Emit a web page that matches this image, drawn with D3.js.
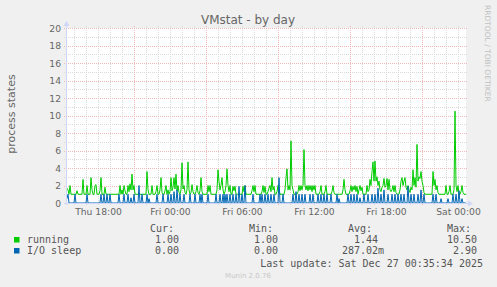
<!DOCTYPE html>
<html>
<head>
<meta charset="utf-8">
<script src="https://cdn.jsdelivr.net/npm/d3@7/dist/d3.min.js"></script>
<style>
  body { margin: 0; background: #F0F0F0; }
  svg { display: block; }
  text { font-family: "DejaVu Sans", sans-serif; }
  .mono { font-family: "DejaVu Sans Mono", monospace; white-space: pre; }
</style>
</head>
<body>
<script>
// munin vmstat, day view: 400 samples of 5 minutes
var startTime = new Date(2025, 11, 25, 15, 20);   // Thu 15:20
var endTime = new Date(2025, 11, 27, 0, 40);      // Sat 00:40
var stepMinutes = 5;

var running = [
  1.7,1.5,1,2,1,1,1,1,1,1,1.4,1,1,1,1,1,2.7,1,1,1,
  2,1,1,1,2.9,1.5,1,1,2,2.1,1,1,1,1.4,2.9,1,1,1,1.8,1,
  1,1,1,1,1,1,1,1,1,1,1,1,1,2,1,1.5,1,2,1.4,1,
  1,2,1.3,2.2,1.5,3.3,1.5,2,1,1,1,1,1,1,1,1,1,1,1,1,
  3.6,1.5,1,1,1,2,1,1,1,1.3,2,1,1,1.5,2.9,1.2,1,1,1.4,2,
  1,1.5,1,1.3,2.9,1.4,1.8,2.9,1.6,3.3,1.4,2,1.2,1,1.5,4.6,1.6,2,1.2,1,
  1.5,4.7,1.5,1,1.2,2.1,1.3,1,1,1.3,2,1.2,1,1.4,2.9,1.3,1,1,1,1,
  1,2,1.3,2,1,1,1,1,1,1,1.5,3.8,2.5,1.5,2,2.9,1.5,1,1.3,2,
  3.9,2,1.3,2,1,1,1.9,1.4,1.9,1,1,1,1,1,1,1,1.9,1.3,2,1,
  1,1,1,1,1,1.4,2,1.3,2,1,1,1,1,1,1,1.3,2,1.2,1.9,1,
  1,1.3,1.7,2,1.3,2.9,1.5,1.9,1,1,1.3,2,1.5,1,1,1,1,1,1.5,2.9,
  3.9,1.5,2,1.5,7.1,2,1.5,1,1,1,1,1.3,2,1.4,2,1.5,2,6.1,2,1.5,
  2,1.4,2,1.5,2,1.3,2,1.5,2,1,1,1,1,1.3,2,1,1,1,1.3,2,
  1,1,1,1,1,1.3,2,1.2,1,1,1,1,1,1,1,1,1.5,2.7,1.5,1,
  1,1,1,1.4,2,1.3,1.9,1.5,2,1.3,1.9,1,1.5,2,1.4,1.8,1,1,1,1,
  2,1.3,1.5,2.7,2,3.6,4.7,2.5,4.8,2.5,3,2,2.5,1.5,1.3,1.8,2,2.8,1.8,2,
  2.8,1.5,2.7,1.5,1.3,1.5,2,1.3,2,1.2,1,1,1,1.5,2.5,2.9,2,2.5,2.9,1.8,
  1.5,2,1.5,1.2,1.8,1.5,3.8,2,2.9,1.8,6.7,2.5,3,2.8,3.6,2.5,2,1.2,1,1,
  1,1,1,1,1,1,3.6,2,2.7,1.5,2,1.2,1,1,1,1,1,1,1,2,
  1,1,1.3,2,1,1,1,1.5,10.5,2,1.3,2,1,1,1.3,2,1.2,1,1,1
];

var ioSleep = [
  0.5,1,0,0,0,0,0,0,1,0,0,0,0,0,0,0,0,0,0,0,
  1,0,0,0,0,0,0,0,0,0,0,0,0,0,1,0,0,1,0,0,
  1,0,0,1,0,0,0,0,0,0,0,0,1,0,0,0,0,1,0,0,
  0,1,0,0,0.6,0,0,1,0,0,0,0,2,0,0,1,0,0,0,0,
  1,0,0.5,0,0,0,0,0,0,0,1,0,0,0,0,0,1,0,0,0,
  0,1,0,0,1,0,0,1.3,0,0,1.5,0,0,1,0,0,0,1,0,0,
  0,0,0,1,0,0,0,0,1,0,0,0,0,1,0,1,0,0,0,0,
  0,1,0,0,0,0,0,0,0,1,0,0,0,1,0,0,1,0,1,0,
  1,0,0,1,0,0,1,0,0,1,0,0,1.9,0,0,1,0,0,2,0,
  0,0,0,0,0,0,1,0,0,0,0,0,0,1,0,1,0,0,1,0,
  0,1,0,0,1,0,0,1,0,0,0,0,2.9,0,0,0,1,0,0,0,
  0,0,0,0,0,0,1,0,0,1.3,0,0,1,0,0,1,0,0,1,0,
  0,0,0,1,0,0,1,0,0,0,0,1,0,0,1,0,0,1,0,0,
  1,0,0,0,1,0,0,0,0,0,1,0,0.5,0,0,0,0,0,0,0,
  0,1,0,0,1,0,0,1,0,0,1,0,0,0.6,0,0,0,1,0,0,
  0,1,0,0,0,1,0,0,1,0,0,1.7,0,0,1,0,0,1.5,0,0,
  0,1,0,0,0,1,0,0,1,0,0,1,0,0,1,0,0,1,0,0,
  0,1.9,0,0,1,0,0,1,0,0,0,1,0,0,1.5,0,0,1,0,0,
  0,0,0,0,0,0,1,0,0,1,0,0,0,0,0.5,0,0,0,0,0,
  0,0.5,0,0,0,0,1,0,0,1,0,0,1.4,0,0,0.5,0,0,0,0
];

var seriesNames = ["running", "I/O sleep"];
var seriesColors = ["#00CC00", "#0066B3"];
var legendHeaders = ["Cur:", "Min:", "Avg:", "Max:"];
var runningStats = ["  1.00 ", "  1.00 ", "  1.44 ", " 10.50 "];
var ioSleepStats = ["  0.00 ", "  0.00 ", "287.02m", "  2.90 "];
var yTicks = [0, 2, 4, 6, 8, 10, 12, 14, 16, 18, 20];

var W = 497, H = 287;
var plotL = 66, plotR = 466, plotT = 28, plotB = 203;

var svg = d3.select("body").append("svg")
    .attr("width", W)
    .attr("height", H);

svg.append("rect").attr("width", W).attr("height", H).attr("fill", "#F0F0F0");
svg.append("rect")
    .attr("x", plotL).attr("y", plotT)
    .attr("width", plotR - plotL).attr("height", plotB - plotT)
    .attr("fill", "#FFFFFF");

var x = d3.scaleTime().domain([startTime, endTime]).range([plotL, plotR]);
var y = d3.scaleLinear().domain([0, 20]).range([plotB, plotT]);

// time of each sample
function sampleTime(i) {
  return new Date(startTime.getTime() + (i + 1) * stepMinutes * 60000);
}

var grid = svg.append("g").attr("shape-rendering", "crispEdges");
var minorColor = "#d9d9d9", majorColor = "#f0b8b8";

// minor grid: every unit and every hour
var minorY = d3.range(1, 20, 2);
grid.selectAll(".hminor").data(minorY).enter().append("line")
    .attr("x1", plotL - 2).attr("x2", plotR + 2)
    .attr("y1", function(d) { return Math.round(y(d)) + 0.5; })
    .attr("y2", function(d) { return Math.round(y(d)) + 0.5; })
    .attr("stroke", minorColor).attr("stroke-dasharray", "1,1");

var hours = x.ticks(d3.timeHour.every(1));
grid.selectAll(".vminor").data(hours.filter(function(d) { return d.getHours() % 6 != 3; })).enter().append("line")
    .attr("x1", function(d) { return Math.round(x(d)) + 0.5; })
    .attr("x2", function(d) { return Math.round(x(d)) + 0.5; })
    .attr("y1", plotT - 2).attr("y2", plotB + 2)
    .attr("stroke", minorColor).attr("stroke-dasharray", "1,1");

// major grid: every 2 units and every 6 hours
grid.selectAll(".hmajor").data(yTicks.slice(1)).enter().append("line")
    .attr("x1", plotL - 2).attr("x2", plotR + 2)
    .attr("y1", function(d) { return Math.round(y(d)) + 0.5; })
    .attr("y2", function(d) { return Math.round(y(d)) + 0.5; })
    .attr("stroke", majorColor).attr("stroke-dasharray", "1,1");

grid.selectAll(".vmajor").data(hours.filter(function(d) { return d.getHours() % 6 == 3; })).enter().append("line")
    .attr("x1", function(d) { return Math.round(x(d)) + 0.5; })
    .attr("x2", function(d) { return Math.round(x(d)) + 0.5; })
    .attr("y1", plotT - 2).attr("y2", plotB + 2)
    .attr("stroke", majorColor).attr("stroke-dasharray", "1,1");

// tick labels
svg.selectAll(".ylab").data(yTicks).enter().append("text")
    .attr("x", 61)
    .attr("y", function(d) { return y(d) + 3.5; })
    .attr("text-anchor", "end")
    .style("font-size", "9.2px")
    .attr("fill", "#666")
    .text(function(d) { return d; });

var labelTimes = x.ticks(d3.timeHour.every(6));
var fmt = d3.timeFormat("%a %H:%M");
svg.selectAll(".xlab").data(labelTimes).enter().append("text")
    .attr("x", function(d) { return x(d) + 0.5; })
    .attr("y", 215)
    .attr("text-anchor", "middle")
    .style("font-size", "9.2px")
    .attr("fill", "#666")
    .text(fmt);

// series
var line = d3.line()
    .x(function(d, i) { return x(sampleTime(i)); })
    .y(function(d) { return y(d); });

[running, ioSleep].forEach(function(s, k) {
  svg.append("path")
      .datum(s)
      .attr("d", line)
      .attr("fill", "none")
      .attr("stroke", seriesColors[k])
      .attr("stroke-width", 1);
});

// axes with arrows, drawn over the data like rrdtool does
var axisColor = "#CFD6F8";
svg.append("line")
    .attr("x1", plotL - 2).attr("x2", plotR + 3)
    .attr("y1", plotB + 0.5).attr("y2", plotB + 0.5)
    .attr("stroke", axisColor).attr("shape-rendering", "crispEdges");
svg.append("line")
    .attr("x1", plotL + 0.5).attr("x2", plotL + 0.5)
    .attr("y1", plotB + 2).attr("y2", plotT - 3)
    .attr("stroke", axisColor).attr("shape-rendering", "crispEdges");
svg.append("path")
    .attr("d", "M" + (plotR + 7) + "," + (plotB + 0.5) + "L" + (plotR + 2) + "," + (plotB - 2.5) + "L" + (plotR + 2) + "," + (plotB + 3.5) + "Z")
    .attr("fill", axisColor);
svg.append("path")
    .attr("d", "M" + (plotL + 0.5) + "," + (plotT - 7) + "L" + (plotL - 2.5) + "," + (plotT - 2) + "L" + (plotL + 3.5) + "," + (plotT - 2) + "Z")
    .attr("fill", axisColor);

// title and labels
svg.append("text")
    .attr("x", 248).attr("y", 24)
    .attr("text-anchor", "middle")
    .style("font-size", "12px")
    .attr("fill", "#666")
    .text("VMstat - by day");

svg.append("text")
    .attr("transform", "translate(15,114) rotate(-90)")
    .attr("text-anchor", "middle")
    .style("font-size", "11px")
    .attr("fill", "#666")
    .text("process states");

svg.append("text")
    .attr("transform", "translate(485,5) rotate(90)")
    .attr("text-anchor", "start")
    .style("font-size", "7.5px")
    .attr("fill", "#c0c0c0")
    .text("RRDTOOL / TOBI OETIKER");

// legend
var colX = [143, 242, 342, 441];
var headX = [150, 249, 348, 447];
svg.selectAll(".head").data(legendHeaders).enter().append("text")
    .attr("class", "mono")
    .attr("x", function(d, i) { return headX[i]; })
    .attr("y", 232)
    .style("font-size", "10px")
    .attr("fill", "#555")
    .text(function(d) { return d; });

var stats = [runningStats, ioSleepStats];
seriesNames.forEach(function(name, k) {
  var by = 243 + k * 11;
  svg.append("rect")
      .attr("x", 14).attr("y", by - 6)
      .attr("width", 5.5).attr("height", 5.5)
      .attr("fill", seriesColors[k]);
  svg.append("text")
      .attr("class", "mono")
      .attr("x", 27).attr("y", by)
      .style("font-size", "10px")
      .attr("fill", "#555")
      .text(name);
  svg.selectAll(".v" + k).data(stats[k]).enter().append("text")
      .attr("class", "mono")
      .attr("x", function(d, i) { return colX[i]; })
      .attr("y", by)
      .style("font-size", "10px")
      .attr("fill", "#555")
      .text(function(d) { return d; });
});

svg.append("text")
    .attr("class", "mono")
    .attr("x", 483).attr("y", 267)
    .attr("text-anchor", "end")
    .style("font-size", "10px")
    .attr("fill", "#555")
    .text("Last update: Sat Dec 27 00:35:34 2025");

svg.append("text")
    .attr("x", 248).attr("y", 278)
    .attr("text-anchor", "middle")
    .style("font-size", "7px")
    .attr("fill", "#c8c8c8")
    .text("Munin 2.0.76");
</script>
</body>
</html>
